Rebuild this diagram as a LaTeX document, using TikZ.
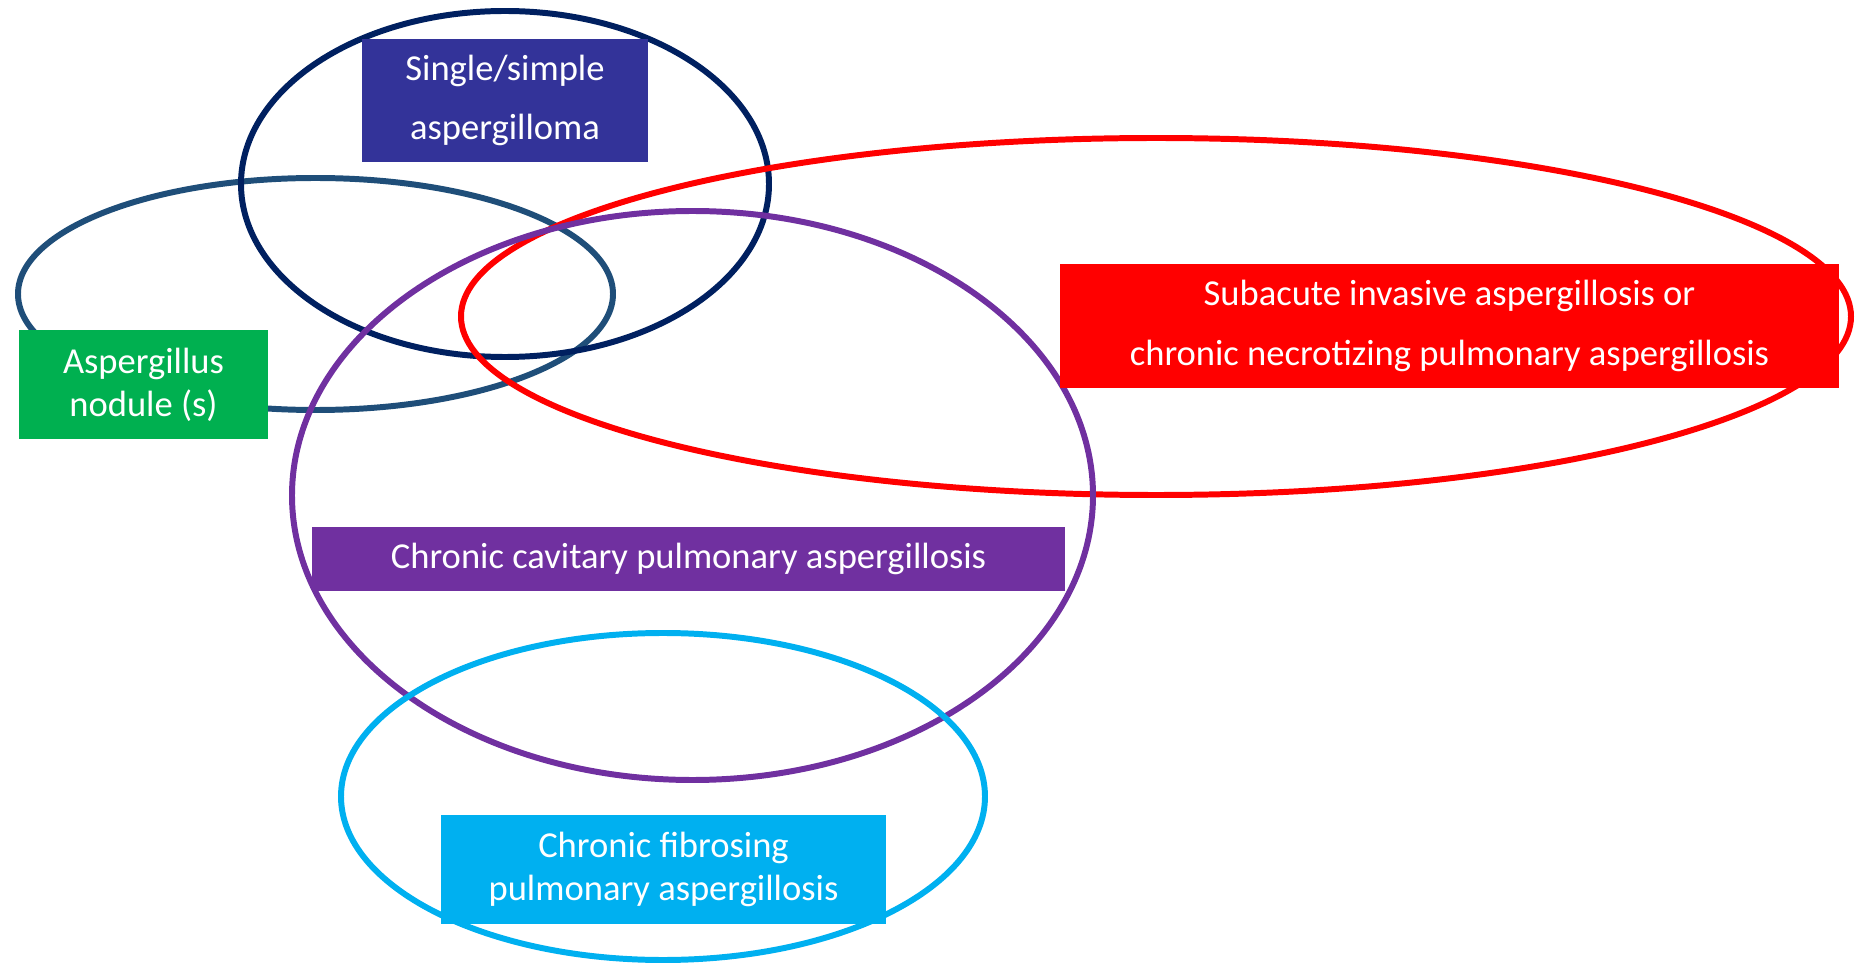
\documentclass[tikz,border=0pt]{standalone}
\usepackage{fontspec}
\setmainfont{Carlito}
\definecolor{asnavy}{RGB}{0,32,96}
\definecolor{asteal}{RGB}{31,78,121}
\definecolor{asred}{RGB}{255,0,0}
\definecolor{aspurple}{RGB}{112,48,160}
\definecolor{ascyan}{RGB}{0,176,240}
\definecolor{asgreen}{RGB}{0,176,80}
\definecolor{asindigo}{RGB}{51,51,153}
\usepackage{amsmath,amssymb}

\begin{document}
\begin{tikzpicture}[
  ring/.style={line width=3.4pt},
  label/.style={inner sep=0pt, text=white, align=center, font=\fontsize{20.8}{34}\selectfont},
  tight/.style={font=\fontsize{20.8}{24.5}\selectfont}
]
\useasboundingbox (0,0) rectangle (37.14,-19.32);

% the groups
\draw[ring, asteal] (6.31,-5.88) ellipse [x radius=5.95, y radius=2.32];
\draw[ring, asnavy] (10.10,-3.68) ellipse [x radius=5.28, y radius=3.46];
\draw[ring, asred] (23.12,-6.33) ellipse [x radius=13.90, y radius=3.57];
\draw[ring, aspurple] (13.85,-9.91) ellipse [x radius=8.01, y radius=5.69];
\draw[ring, ascyan] (13.26,-15.93) ellipse [x radius=6.44, y radius=3.27];

% the names
\node[label, fill=asindigo, minimum width=5.72cm, minimum height=2.46cm] (simple) at (10.10,-2.01) {Single/simple\\aspergilloma};
\node[label, tight, fill=asgreen, minimum width=4.98cm, minimum height=2.18cm] (nodule) at (2.87,-7.69) {Aspergillus\\nodule (s)};
\node[label, fill=asred, minimum width=15.58cm, minimum height=2.48cm] (sair) at (28.99,-6.52) {Subacute invasive aspergillosis or\\chronic necrotizing pulmonary aspergillosis};
\node[label, fill=aspurple, minimum width=15.06cm, minimum height=1.28cm] (ccpa) at (13.77,-11.18) {Chronic cavitary pulmonary aspergillosis};
\node[label, tight, fill=ascyan, minimum width=8.90cm, minimum height=2.18cm] (cfpa) at (13.27,-17.39) {Chronic fibrosing\\pulmonary aspergillosis};
\end{tikzpicture}
\end{document}
